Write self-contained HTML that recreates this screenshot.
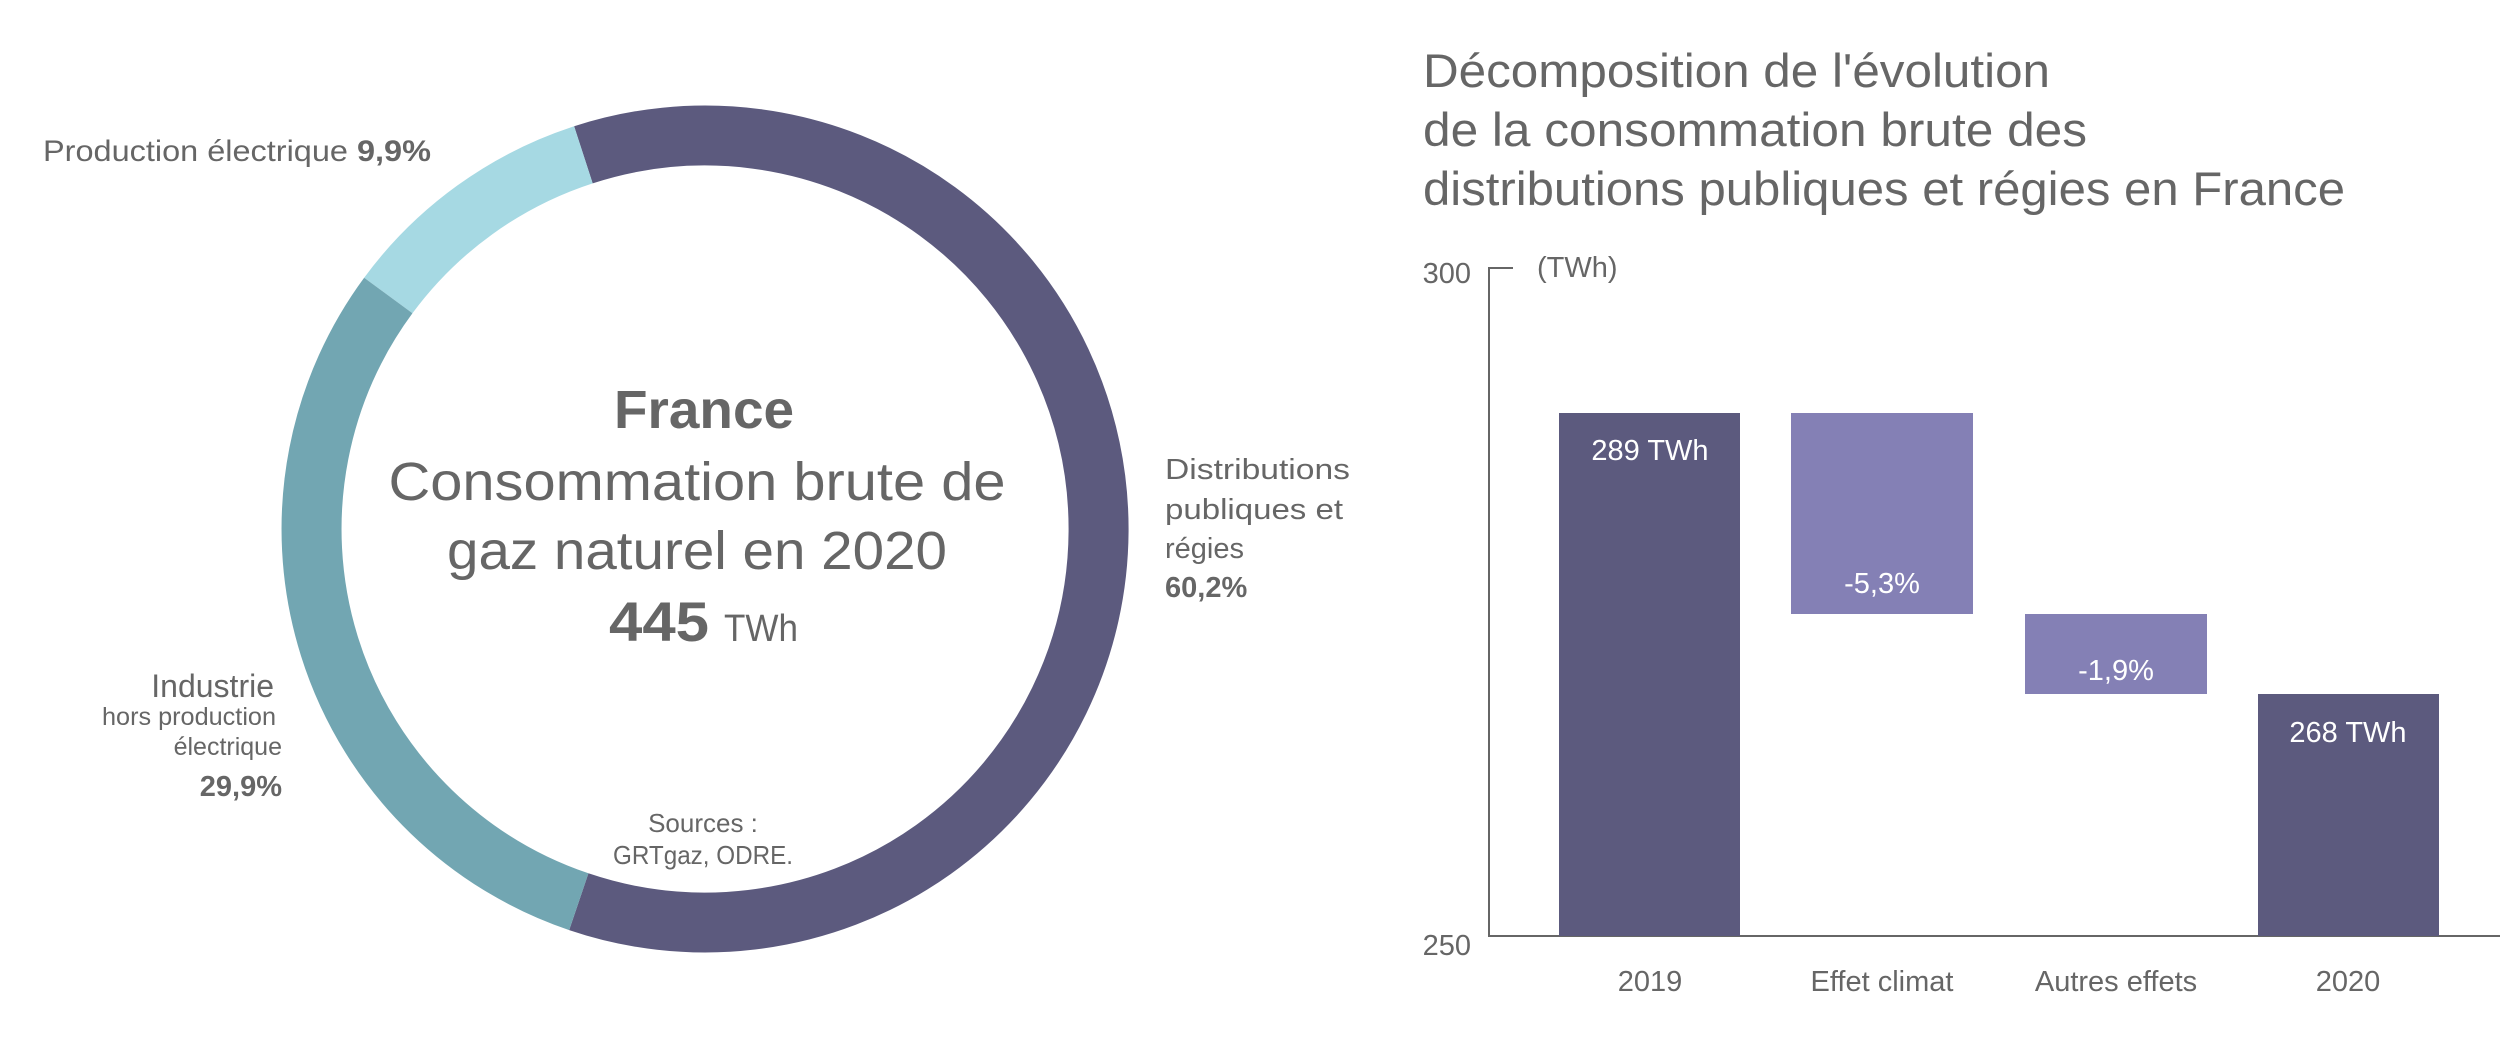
<!DOCTYPE html>
<html><head><meta charset="utf-8"><style>
html,body{margin:0;padding:0;background:#fff;width:2500px;height:1063px;overflow:hidden}
text{font-family:"Liberation Sans",sans-serif;fill:#666}
</style></head><body>
<svg width="2500" height="1063" viewBox="0 0 2500 1063" xmlns="http://www.w3.org/2000/svg">
<!-- donut -->
<g fill="none" stroke-width="60">
<path d="M583.4 154.8 A393.5 393.5 0 1 1 578.8 901.7" stroke="#5c5a7e"/>
<path d="M388.3 295.5 A393.5 393.5 0 0 1 583.4 154.8" stroke="#a6d9e3"/>
<path d="M578.8 901.7 A393.5 393.5 0 0 1 388.3 295.5" stroke="#72a6b2"/>
</g>
<text x="704" y="428" text-anchor="middle" font-size="54" font-weight="bold" textLength="180" lengthAdjust="spacingAndGlyphs">France</text>
<text x="697" y="500" text-anchor="middle" font-size="54" textLength="617" lengthAdjust="spacingAndGlyphs">Consommation brute de</text>
<text x="697" y="569" text-anchor="middle" font-size="54" textLength="500" lengthAdjust="spacingAndGlyphs">gaz naturel en 2020</text>
<text x="609" y="641" font-size="56" font-weight="bold" textLength="100" lengthAdjust="spacingAndGlyphs">445</text>
<text x="724" y="641" font-size="38" textLength="74" lengthAdjust="spacingAndGlyphs">TWh</text>
<text x="43" y="161" font-size="30" textLength="388" lengthAdjust="spacingAndGlyphs">Production électrique <tspan font-weight="bold">9,9%</tspan></text>
<g font-size="29">
<text x="1165" y="479" textLength="185" lengthAdjust="spacingAndGlyphs">Distributions</text>
<text x="1165" y="519" textLength="178" lengthAdjust="spacingAndGlyphs">publiques et</text>
<text x="1165" y="558">régies</text>
<text x="1165" y="597" font-weight="bold">60,2%</text>
</g>
<text x="274" y="697" text-anchor="end" font-size="32">Industrie</text>
<text x="276" y="725" text-anchor="end" font-size="25" textLength="174" lengthAdjust="spacingAndGlyphs">hors production</text>
<text x="282" y="755" text-anchor="end" font-size="25">électrique</text>
<text x="282" y="796" text-anchor="end" font-size="29" font-weight="bold">29,9%</text>
<text x="703" y="832" text-anchor="middle" font-size="26">Sources :</text>
<text x="703" y="864" text-anchor="middle" font-size="26" textLength="180" lengthAdjust="spacingAndGlyphs">GRTgaz, ODRE.</text>
<!-- bar chart title -->
<g font-size="47">
<text x="1423" y="87" textLength="627" lengthAdjust="spacingAndGlyphs">Décomposition de l'évolution</text>
<text x="1423" y="146" textLength="664" lengthAdjust="spacingAndGlyphs">de la consommation brute des</text>
<text x="1423" y="205" textLength="922" lengthAdjust="spacingAndGlyphs">distributions publiques et régies en France</text>
</g>
<!-- axes -->
<path d="M1513 268 H1489 V936 H2500" fill="none" stroke="#666" stroke-width="2"/>
<text x="1471" y="283" text-anchor="end" font-size="29">300</text>
<text x="1471" y="955" text-anchor="end" font-size="29">250</text>
<text x="1537" y="277" font-size="29">(TWh)</text>
<!-- bars -->
<rect x="1559" y="413" width="181" height="523" fill="#5c5a7e"/>
<rect x="1791" y="413" width="182" height="201" fill="#8480b5"/>
<rect x="2025" y="614" width="182" height="80" fill="#8480b5"/>
<rect x="2258" y="694" width="181" height="242" fill="#5c5a7e"/>
<g font-size="29" text-anchor="middle" style="fill:#fff">
<text x="1650" y="460" style="fill:#fff">289 TWh</text>
<text x="1882" y="593" style="fill:#fff">-5,3%</text>
<text x="2116" y="680" style="fill:#fff">-1,9%</text>
<text x="2348" y="742" style="fill:#fff">268 TWh</text>
</g>
<g font-size="29" text-anchor="middle">
<text x="1650" y="991">2019</text>
<text x="1882" y="991">Effet climat</text>
<text x="2116" y="991">Autres effets</text>
<text x="2348" y="991">2020</text>
</g>
</svg>
</body></html>
